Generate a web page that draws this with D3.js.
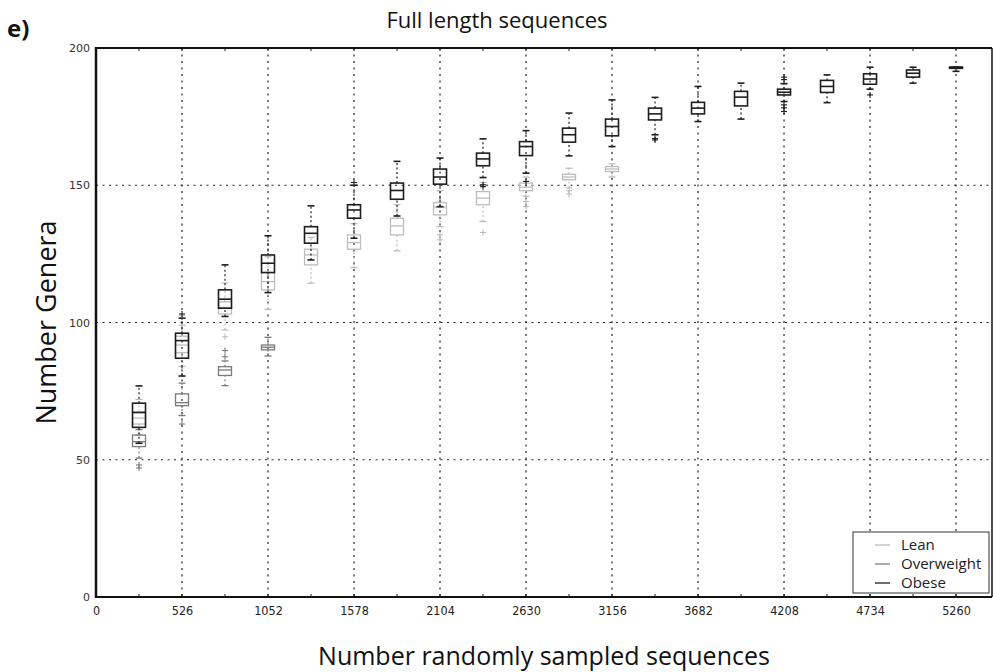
<!DOCTYPE html>
<html>
<head>
<meta charset="utf-8">
<script src="https://cdn.jsdelivr.net/npm/d3@7"></script>
<style>
  body { margin: 0; background: #fff; }
  svg { display: block; font-family: "Open Sans", "Noto Sans", sans-serif; }
</style>
</head>
<body>
<div id="chart"></div>
<script>
// sample sizes (x positions of the boxes)
const samples = [263, 526, 789, 1052, 1315, 1578, 1841, 2104, 2367, 2630,
  2893, 3156, 3419, 3682, 3945, 4208, 4471, 4734, 4997, 5260];
const xTicks = [0, 526, 1052, 1578, 2104, 2630, 3156, 3682, 4208, 4734, 5260];
const yTicks = [0, 50, 100, 150, 200];

// box stats per sample: [lower whisker, q1, median, q3, upper whisker]
const leanStats = [
  [59, 63, 65.2, 67.5, 72],
  [84, 89, 91.8, 95, 99],
  [97.3, 103.1, 105.5, 107.5, 114.4],
  [104.8, 111.9, 114.9, 118.2, 124],
  [114.3, 121, 124.6, 126.7, 131],
  [120, 126.7, 129.1, 131.9, 136],
  [126.1, 131.9, 135.2, 138, 142.9],
  [134.9, 139.2, 142, 143.7, 148],
  [136.8, 142.9, 145.3, 147.7, 151],
  [146, 148, 149.3, 150.8, 153],
  [149, 152, 153, 154, 156.2],
  [153, 155, 155.9, 156.8, 157.8]
];
const overweightStats = [
  [50.6, 54.8, 56.6, 59, 61],
  [66.1, 69.7, 70.8, 74, 77.9],
  [77, 80.7, 82.7, 83.9, 86],
  [87.8, 90, 91, 91.8, 94.6]
];
const obeseStats = [
  [56, 61.8, 67.2, 70.6, 76.9],
  [80.5, 87, 93.4, 96.1, 101.6],
  [102.2, 105.2, 108.5, 111.9, 121],
  [110.9, 118.2, 121.6, 124.6, 131.6],
  [122.8, 128.9, 132.5, 134.9, 142.5],
  [130.7, 138, 141, 142.9, 150],
  [138.8, 144.9, 148.1, 150.8, 158.7],
  [142.2, 150.4, 153, 155.9, 159.9],
  [152.8, 157.1, 159.6, 161.7, 166.9],
  [154.4, 160.8, 164.1, 165.9, 169.9],
  [160.7, 165.7, 168.4, 170.8, 176.3],
  [164.1, 168, 171.4, 174.1, 181.1],
  [168.4, 173.8, 176, 178.1, 182],
  [173.2, 176, 178.1, 180.2, 186],
  [174.1, 178.9, 182.1, 184.2, 187.2],
  [180.5, 182.9, 183.9, 185, 187],
  [180.1, 183.8, 186, 188.2, 190.2],
  [185, 186.8, 188.7, 190.6, 193],
  [187.2, 189.4, 190.8, 192, 193],
  [191.5, 192.6, 193, 193, 193]
];

// outliers: [sample, value]
const leanOutliers = [[526, 102.5], [789, 94.8], [2104, 131.9], [2104, 130.1],
  [2367, 132.8], [2630, 144.1], [2630, 142.2], [2893, 148], [2893, 146.8]];
const overweightOutliers = [[263, 48.1], [263, 47], [526, 63], [789, 87.5], [789, 89.8]];
const obeseOutliers = [[526, 103.1], [1578, 151], [2367, 150.2], [2367, 149.5],
  [2630, 151.4], [3419, 167], [3419, 166.5], [4208, 189.4], [4208, 188.5],
  [4208, 179.3], [4208, 178.2], [4208, 176.9], [4734, 182.9]];

const seriesNames = ["Lean", "Overweight", "Obese"];
const seriesColors = ["#bdbdbd", "#7a7a7a", "#1e1e1e"];

const W = 993, H = 672;
const plot = { left: 96, right: 992, top: 48, bottom: 597 };

const svg = d3.select("#chart").append("svg")
  .attr("width", W).attr("height", H);

const x = d3.scaleLinear().domain([0, 5480]).range([plot.left, plot.right]);
const y = d3.scaleLinear().domain([0, 200]).range([plot.bottom, plot.top]);

// grid
const grid = svg.append("g").attr("stroke", "#222").attr("stroke-width", 1.2)
  .attr("stroke-dasharray", "2,4.5");
grid.selectAll(".vg").data(xTicks.slice(1)).enter().append("line")
  .attr("x1", (d) => x(d)).attr("x2", (d) => x(d))
  .attr("y1", plot.top).attr("y2", plot.bottom);
grid.selectAll(".hg").data(yTicks.slice(1, -1)).enter().append("line")
  .attr("x1", plot.left).attr("x2", plot.right)
  .attr("y1", (d) => y(d)).attr("y2", (d) => y(d));

// minor inward ticks top/bottom
const ticks = svg.append("g").attr("stroke", "#222").attr("stroke-width", 1);
ticks.selectAll(".tt").data(samples).enter().append("line")
  .attr("x1", (d) => x(d)).attr("x2", (d) => x(d))
  .attr("y1", plot.top).attr("y2", plot.top + 3);
ticks.selectAll(".bt").data(samples).enter().append("line")
  .attr("x1", (d) => x(d)).attr("x2", (d) => x(d))
  .attr("y1", plot.bottom).attr("y2", plot.bottom - 3);

// boxplots
const boxW = 13, capW = 7;
function drawSeries(stats, outliers, color, sw) {
  const g = svg.append("g").attr("stroke", color).attr("fill", "none");
  const rows = stats.map((s, i) => ({ x: samples[i], s: s }));
  // whiskers (dashed)
  g.selectAll(".wl").data(rows).enter().append("line")
    .attr("x1", (d) => x(d.x)).attr("x2", (d) => x(d.x))
    .attr("y1", (d) => y(d.s[0])).attr("y2", (d) => y(d.s[1]))
    .attr("stroke-width", 1.2).attr("stroke-dasharray", "2,2.5");
  g.selectAll(".wh").data(rows).enter().append("line")
    .attr("x1", (d) => x(d.x)).attr("x2", (d) => x(d.x))
    .attr("y1", (d) => y(d.s[3])).attr("y2", (d) => y(d.s[4]))
    .attr("stroke-width", 1.2).attr("stroke-dasharray", "2,2.5");
  // caps
  [0, 4].forEach((k) => {
    g.selectAll(".cap" + k).data(rows).enter().append("line")
      .attr("x1", (d) => x(d.x) - capW / 2).attr("x2", (d) => x(d.x) + capW / 2)
      .attr("y1", (d) => y(d.s[k])).attr("y2", (d) => y(d.s[k]))
      .attr("stroke-width", sw);
  });
  // boxes
  g.selectAll(".box").data(rows).enter().append("rect")
    .attr("x", (d) => x(d.x) - boxW / 2).attr("width", boxW)
    .attr("y", (d) => y(d.s[3]))
    .attr("height", (d) => Math.max(0.5, y(d.s[1]) - y(d.s[3])))
    .attr("stroke-width", sw);
  // medians
  g.selectAll(".med").data(rows).enter().append("line")
    .attr("x1", (d) => x(d.x) - boxW / 2).attr("x2", (d) => x(d.x) + boxW / 2)
    .attr("y1", (d) => y(d.s[2])).attr("y2", (d) => y(d.s[2]))
    .attr("stroke-width", sw);
  // outliers as +
  const o = g.selectAll(".out").data(outliers).enter().append("g")
    .attr("transform", (d) => "translate(" + x(d[0]) + "," + y(d[1]) + ")")
    .attr("stroke-width", 1.1);
  o.append("line").attr("x1", -3).attr("x2", 3);
  o.append("line").attr("y1", -3).attr("y2", 3);
}
drawSeries(leanStats, leanOutliers, seriesColors[0], 1.3);
drawSeries(overweightStats, overweightOutliers, seriesColors[1], 1.3);
drawSeries(obeseStats, obeseOutliers, seriesColors[2], 1.6);

// frame
svg.append("line").attr("x1", plot.left).attr("x2", plot.right)
  .attr("y1", plot.top).attr("y2", plot.top).attr("stroke", "#111").attr("stroke-width", 2);
svg.append("line").attr("x1", plot.left).attr("x2", plot.right)
  .attr("y1", plot.bottom).attr("y2", plot.bottom).attr("stroke", "#111").attr("stroke-width", 2);
svg.append("line").attr("x1", plot.left).attr("x2", plot.left)
  .attr("y1", plot.top - 1).attr("y2", plot.bottom + 1).attr("stroke", "#111").attr("stroke-width", 2.5);
svg.append("line").attr("x1", plot.right).attr("x2", plot.right)
  .attr("y1", plot.top).attr("y2", plot.bottom).attr("stroke", "#111").attr("stroke-width", 1.5);

// axes labels
const xAxis = svg.append("g")
  .attr("transform", "translate(0," + plot.bottom + ")")
  .call(d3.axisBottom(x).tickValues(xTicks).tickFormat(d3.format("d"))
    .tickSize(0).tickPadding(9));
xAxis.select(".domain").remove();
xAxis.selectAll("text").attr("font-size", 12.5).attr("fill", "#222")
  .attr("font-family", "DejaVu Sans Condensed, DejaVu Sans, sans-serif")
  .attr("font-stretch", "condensed");

const yAxis = svg.append("g")
  .attr("transform", "translate(" + (plot.left - 6) + ",0)")
  .call(d3.axisLeft(y).tickValues(yTicks).tickFormat(d3.format("d"))
    .tickSize(0).tickPadding(0));
yAxis.select(".domain").remove();
yAxis.selectAll("text").attr("font-size", 11).attr("fill", "#333")
  .attr("font-family", "DejaVu Sans, sans-serif");

// legend
const lg = svg.append("g").attr("transform", "translate(853,532)");
lg.append("rect").attr("width", 136).attr("height", 61)
  .attr("fill", "#fff").attr("stroke", "#333").attr("stroke-width", 1);
seriesNames.forEach((name, i) => {
  const yy = 13 + i * 19;
  lg.append("line").attr("x1", 22).attr("x2", 37).attr("y1", yy).attr("y2", yy)
    .attr("stroke", seriesColors[i]).attr("stroke-width", 1.3);
  lg.append("text").attr("x", 48).attr("y", yy + 5).attr("font-size", 15)
    .attr("fill", "#222").text(name);
});

// titles
svg.append("text").attr("x", 497).attr("y", 28).attr("text-anchor", "middle")
  .attr("font-size", 22).attr("fill", "#111").text("Full length sequences");
svg.append("text").attr("x", 544).attr("y", 665).attr("text-anchor", "middle")
  .attr("font-size", 25).attr("fill", "#111").text("Number randomly sampled sequences");
svg.append("text")
  .attr("transform", "translate(56," + (plot.top + plot.bottom) / 2 + ") rotate(-90)")
  .attr("text-anchor", "middle").attr("font-size", 27).attr("fill", "#111")
  .text("Number Genera");
svg.append("text").attr("x", 7).attr("y", 37).attr("font-size", 24)
  .attr("font-weight", "bold").attr("fill", "#111").text("e)");
</script>
</body>
</html>
